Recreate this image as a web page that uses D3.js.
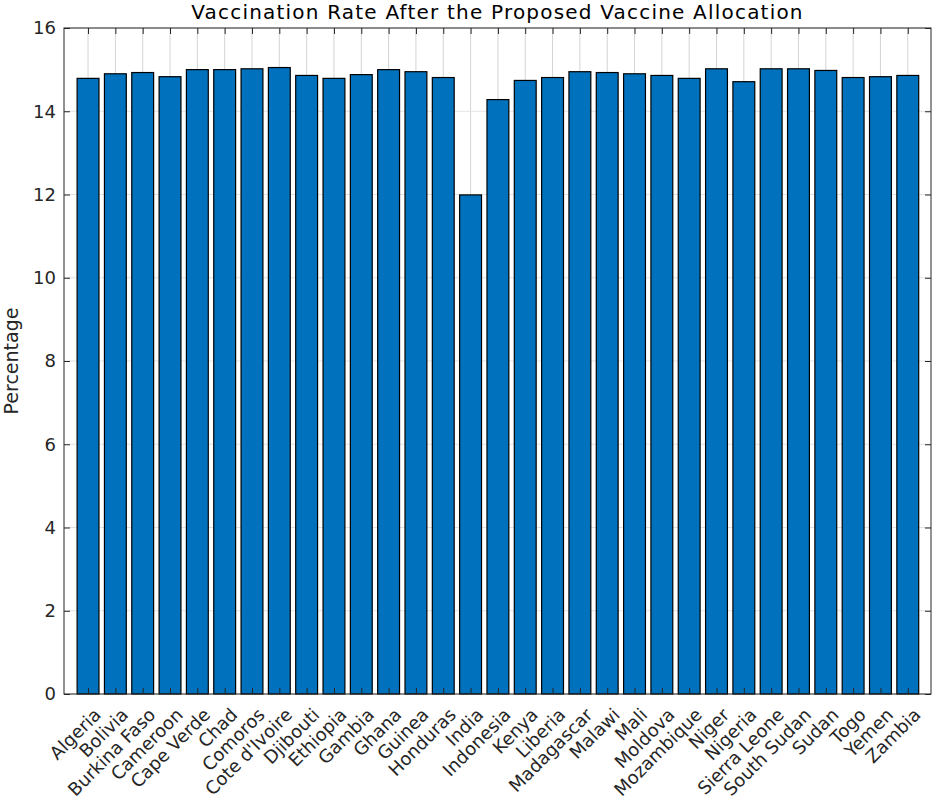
<!DOCTYPE html>
<html>
<head>
<meta charset="utf-8">
<script src="https://cdnjs.cloudflare.com/ajax/libs/d3/7.8.5/d3.min.js"></script>
<style>
  body { margin: 0; background: #fff; }
  text { font-family: "DejaVu Sans", sans-serif; fill: #262626; }
</style>
</head>
<body>
<script>
// countries along the x axis
var countries = ["Algeria", "Bolivia", "Burkina Faso", "Cameroon", "Cape Verde", "Chad",
  "Comoros", "Cote d'Ivoire", "Djibouti", "Ethiopia", "Gambia", "Ghana", "Guinea",
  "Honduras", "India", "Indonesia", "Kenya", "Liberia", "Madagascar", "Malawi", "Mali",
  "Moldova", "Mozambique", "Niger", "Nigeria", "Sierra Leone", "South Sudan", "Sudan",
  "Togo", "Yemen", "Zambia"];

// vaccination rate (%)
var rates = [14.79, 14.90, 14.93, 14.83, 15.00, 15.00,
  15.02, 15.05, 14.86, 14.79, 14.88, 15.00, 14.95,
  14.81, 11.99, 14.28, 14.74, 14.81, 14.95, 14.93, 14.90,
  14.86, 14.79, 15.02, 14.71, 15.02, 15.02, 14.98,
  14.81, 14.83, 14.86];

var yTicks = [0, 2, 4, 6, 8, 10, 12, 14, 16];

var width = 934, height = 802;
var margin = {top: 28, right: 3, bottom: 108, left: 64};

var svg = d3.select("body").append("svg")
  .attr("width", width)
  .attr("height", height);

var x = d3.scaleLinear()
  .domain([0.12, 31.85])
  .range([margin.left, width - margin.right]);

var y = d3.scaleLinear()
  .domain([0, 16])
  .range([height - margin.bottom, margin.top]);

var idx = d3.range(1, countries.length + 1);
var bw = (x(1.8) - x(1));

var g = svg.append("g");

// grid lines
g.selectAll(".vgrid").data(idx).enter().append("line")
  .attr("x1", function(d) { return x(d); })
  .attr("x2", function(d) { return x(d); })
  .attr("y1", y(0)).attr("y2", y(16))
  .attr("stroke", "#d4d4d4").attr("stroke-width", 1);

g.selectAll(".hgrid").data(yTicks).enter().append("line")
  .attr("x1", x.range()[0]).attr("x2", x.range()[1])
  .attr("y1", function(d) { return y(d); })
  .attr("y2", function(d) { return y(d); })
  .attr("stroke", "#e2e2e2").attr("stroke-width", 1);

// bars
g.selectAll(".bar").data(rates).enter().append("rect")
  .attr("x", function(d, i) { return x(i + 1) - bw / 2; })
  .attr("y", function(d) { return y(d); })
  .attr("width", bw)
  .attr("height", function(d) { return y(0) - y(d); })
  .attr("fill", "#0072BD")
  .attr("stroke", "#000")
  .attr("stroke-width", 1.2);

// axes with inward ticks
var tk = 6;
svg.append("g")
  .attr("transform", "translate(0," + y(0) + ")")
  .call(d3.axisBottom(x).tickValues(idx).tickSize(-tk).tickFormat(""))
  .call(function(s) { s.select(".domain").remove(); });
svg.append("g")
  .attr("transform", "translate(0," + y(16) + ")")
  .call(d3.axisTop(x).tickValues(idx).tickSize(-tk).tickFormat(""))
  .call(function(s) { s.select(".domain").remove(); });
svg.append("g")
  .attr("transform", "translate(" + x.range()[0] + ",0)")
  .call(d3.axisLeft(y).tickValues(yTicks).tickSize(-tk).tickPadding(8))
  .call(function(s) { s.select(".domain").remove(); })
  .selectAll("text")
  .style("font-size", "18px")
  .style("font-family", "'DejaVu Sans', sans-serif")
  .attr("fill", "#262626");
svg.append("g")
  .attr("transform", "translate(" + x.range()[1] + ",0)")
  .call(d3.axisRight(y).tickValues(yTicks).tickSize(-tk).tickFormat(""))
  .call(function(s) { s.select(".domain").remove(); });
svg.selectAll(".tick line").attr("stroke", "#262626");

// box
svg.append("rect")
  .attr("x", x.range()[0]).attr("y", y(16))
  .attr("width", x.range()[1] - x.range()[0])
  .attr("height", y(0) - y(16))
  .attr("fill", "none")
  .attr("stroke", "#262626")
  .attr("stroke-width", 1);

// rotated country labels
svg.selectAll(".xlab").data(countries).enter().append("text")
  .attr("transform", function(d, i) {
    return "translate(" + (x(i + 1) + 4) + "," + (y(0) + 12) + ") rotate(-45)";
  })
  .attr("text-anchor", "end")
  .attr("dy", "0.78em")
  .style("font-size", "18px")
  .text(function(d) { return d; });

// title
svg.append("text")
  .attr("x", (x.range()[0] + x.range()[1]) / 2)
  .attr("y", 19)
  .attr("text-anchor", "middle")
  .style("font-size", "20px")
  .style("letter-spacing", "1.2px")
  .style("fill", "#000")
  .text("Vaccination Rate After the Proposed Vaccine Allocation");

// y label
svg.append("text")
  .attr("transform", "translate(18," + ((y(0) + y(16)) / 2) + ") rotate(-90)")
  .attr("text-anchor", "middle")
  .style("font-size", "19px")
  .text("Percentage");
</script>
</body>
</html>
